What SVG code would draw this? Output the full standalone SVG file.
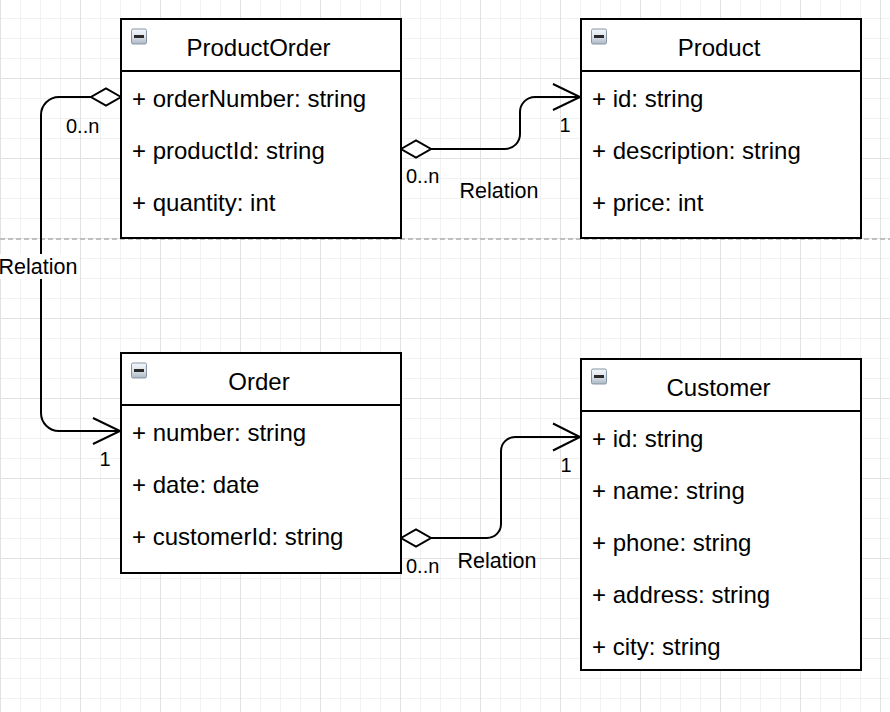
<svg xmlns="http://www.w3.org/2000/svg" width="890" height="712" viewBox="0 0 890 712">
  <defs>
    <pattern id="minor" patternUnits="userSpaceOnUse" x="0" y="-2" width="20" height="20">
      <path d="M0.5 0 V20 M0 0.5 H20" stroke="#f2f2f2" stroke-width="1" fill="none"/>
    </pattern>
    <pattern id="major" patternUnits="userSpaceOnUse" x="0" y="-2" width="80" height="80">
      <path d="M0.5 0 V80 M0 0.5 H80" stroke="#e2e2e2" stroke-width="1" fill="none"/>
    </pattern>
    <linearGradient id="iconGrad" x1="0" y1="0" x2="0" y2="1">
      <stop offset="0" stop-color="#f4f7fa"/>
      <stop offset="0.5" stop-color="#dde4eb"/>
      <stop offset="1" stop-color="#aab6c2"/>
    </linearGradient>
    <g id="icon">
      <rect x="0.5" y="0.5" width="15" height="15" rx="1.5" fill="url(#iconGrad)" stroke="#8796a5" stroke-width="1"/>
      <rect x="3" y="6.5" width="10" height="3" fill="#2a2a2a"/>
    </g>
  </defs>
  <style>
    .box { fill: #ffffff; stroke: #000000; stroke-width: 2; }
    .sep { stroke: #000000; stroke-width: 2; }
    .title { font-family: "Liberation Sans", Arial, Helvetica, sans-serif; font-size: 24px; fill: #000000; text-anchor: middle; }
    .attr { font-family: "Liberation Sans", Arial, Helvetica, sans-serif; font-size: 24px; fill: #000000; }
    .edge { fill: none; stroke: #000000; stroke-width: 2; }
    .diamond { fill: #ffffff; stroke: #000000; stroke-width: 2; stroke-linejoin: miter; }
    .arrow { fill: none; stroke: #000000; stroke-width: 2; stroke-linejoin: miter; }
    .mult { font-family: "Liberation Sans", Arial, Helvetica, sans-serif; font-size: 20px; fill: #000000; }
    .rel { font-family: "Liberation Sans", Arial, Helvetica, sans-serif; font-size: 21.5px; fill: #000000; }
  </style>

  <rect x="0" y="0" width="890" height="712" fill="#ffffff"/>
  <rect x="0" y="0" width="890" height="712" fill="url(#minor)"/>
  <rect x="0" y="0" width="890" height="712" fill="url(#major)"/>
  <line x1="0" y1="239" x2="890" y2="239" stroke="#c0c0c0" stroke-width="2" stroke-dasharray="5 3"/>

  <g id="connectors">
    <g id="edge-productorder-product">
      <path class="edge" d="M431 149 H505 A15 15 0 0 0 520 134 V112 A15 15 0 0 1 535 97 H580"/>
      <polygon class="diamond" points="401,149 416,140.5 431,149 416,157.5"/>
      <polyline class="arrow" points="553,84 580,97 553,110"/>
      <text class="mult" x="406" y="183">0..n</text>
      <text class="mult" x="559.5" y="132">1</text>
      <text class="rel" x="459.5" y="198">Relation</text>
    </g>
    <g id="edge-productorder-order">
      <path class="edge" d="M91 97 H59 A18 18 0 0 0 41 115 V413 A18 18 0 0 0 59 431 H120"/>
      <polygon class="diamond" points="121,97 106,88.5 91,97 106,105.5"/>
      <polyline class="arrow" points="93,418 120,431 93,444"/>
      <text class="mult" x="66" y="133">0..n</text>
      <text class="mult" x="99.5" y="466">1</text>
      <rect x="0" y="254" width="79" height="25" fill="#ffffff"/>
      <text class="rel" x="-1.5" y="274">Relation</text>
    </g>
    <g id="edge-order-customer">
      <path class="edge" d="M431 538 H487 A14 14 0 0 0 501 524 V451 A14 14 0 0 1 515 437 H580"/>
      <polygon class="diamond" points="401,538 416,529.5 431,538 416,546.5"/>
      <polyline class="arrow" points="553,423.5 580,437 553,450.5"/>
      <text class="mult" x="406" y="573">0..n</text>
      <text class="mult" x="560.5" y="472">1</text>
      <text class="rel" x="457.5" y="568">Relation</text>
    </g>
  </g>

  <g id="ProductOrder">
    <rect class="box" x="121" y="19" width="280" height="219"/>
    <line class="sep" x1="121" y1="71" x2="401" y2="71"/>
    <use href="#icon" x="131" y="28.5"/>
    <text class="title" x="258.5" y="56">ProductOrder</text>
    <text class="attr" x="132" y="106.5">+ orderNumber: string</text>
    <text class="attr" x="132" y="158.5">+ productId: string</text>
    <text class="attr" x="132" y="210.5">+ quantity: int</text>
  </g>

  <g id="Product">
    <rect class="box" x="581" y="19" width="280" height="219"/>
    <line class="sep" x1="581" y1="71" x2="861" y2="71"/>
    <use href="#icon" x="591" y="28.5"/>
    <text class="title" x="719" y="56">Product</text>
    <text class="attr" x="592" y="106.5">+ id: string</text>
    <text class="attr" x="592" y="158.5">+ description: string</text>
    <text class="attr" x="592" y="210.5">+ price: int</text>
  </g>

  <g id="Order">
    <rect class="box" x="121" y="353" width="280" height="220"/>
    <line class="sep" x1="121" y1="405" x2="401" y2="405"/>
    <use href="#icon" x="131" y="362.5"/>
    <text class="title" x="259" y="390">Order</text>
    <text class="attr" x="132" y="440.5">+ number: string</text>
    <text class="attr" x="132" y="492.5">+ date: date</text>
    <text class="attr" x="132" y="544.5">+ customerId: string</text>
  </g>

  <g id="Customer">
    <rect class="box" x="581" y="359" width="280" height="311"/>
    <line class="sep" x1="581" y1="411" x2="861" y2="411"/>
    <use href="#icon" x="591" y="368.5"/>
    <text class="title" x="718.5" y="396">Customer</text>
    <text class="attr" x="592" y="446.5">+ id: string</text>
    <text class="attr" x="592" y="498.5">+ name: string</text>
    <text class="attr" x="592" y="550.5">+ phone: string</text>
    <text class="attr" x="592" y="602.5">+ address: string</text>
    <text class="attr" x="592" y="654.5">+ city: string</text>
  </g>
</svg>
